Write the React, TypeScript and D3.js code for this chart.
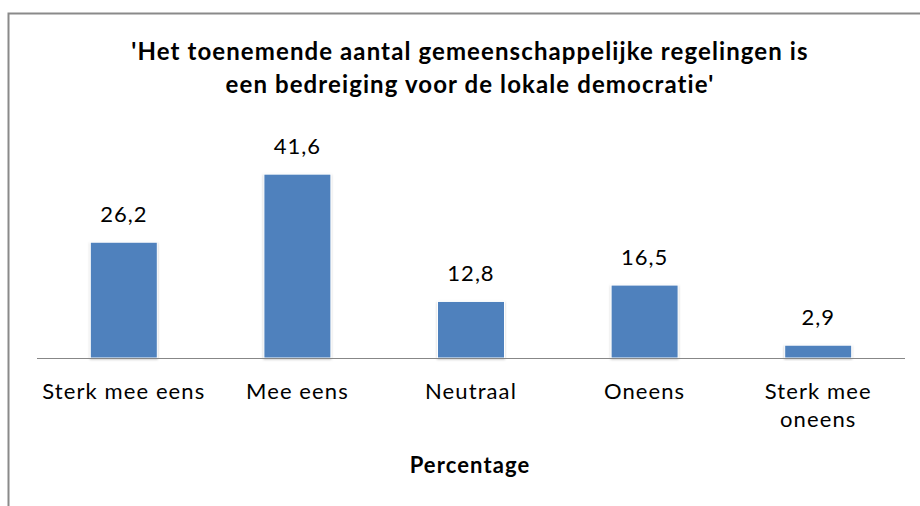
import { useEffect, useRef } from "react";
import * as d3 from "d3";

const categories = ["Sterk mee eens", "Mee eens", "Neutraal", "Oneens", "Sterk mee oneens"];
const values = [26.2, 41.6, 12.8, 16.5, 2.9];
const titleLines = [
  "'Het toenemende aantal gemeenschappelijke regelingen is",
  "een bedreiging voor de lokale democratie'",
];
const axisTitle = "Percentage";

const App = () => {
  const ref = useRef<SVGSVGElement>(null);

  useEffect(() => {
    const width = 920;
    const height = 506;
    const font = "Lato, 'Open Sans', sans-serif";

    const svg = d3.select(ref.current).attr("width", width).attr("height", height);
    svg.selectAll("*").remove();

    // schaduw voor de staven
    const defs = svg.append("defs");
    defs
      .append("filter")
      .attr("id", "barShadow")
      .attr("x", "-20%")
      .attr("y", "-20%")
      .attr("width", "140%")
      .attr("height", "140%")
      .append("feDropShadow")
      .attr("dx", 0)
      .attr("dy", 1)
      .attr("stdDeviation", 1.2)
      .attr("flood-color", "#000")
      .attr("flood-opacity", 0.25);

    // kader
    svg
      .append("rect")
      .attr("x", 8.5)
      .attr("y", 13.5)
      .attr("width", 940)
      .attr("height", 520)
      .attr("fill", "white")
      .attr("stroke", "#8a8a8a")
      .attr("stroke-width", 2);

    // titel
    svg
      .append("g")
      .selectAll("text")
      .data(titleLines)
      .join("text")
      .attr("x", 470)
      .attr("y", (d, i) => 60 + i * 33)
      .attr("text-anchor", "middle")
      .attr("font-family", font)
      .attr("font-size", 24)
      .attr("font-weight", "bold")
      .attr("letter-spacing", 1.1)
      .attr("fill", "#000")
      .text((d) => d);

    const x = d3
      .scaleBand()
      .domain(categories)
      .range([37, 905])
      .paddingInner(0.614)
      .paddingOuter(0.307);

    const y = d3.scaleLinear().domain([0, 45]).range([358, 358 - 45 * 4.42]);

    // staven
    svg
      .append("g")
      .selectAll("rect")
      .data(values)
      .join("rect")
      .attr("x", (d, i) => x(categories[i]))
      .attr("y", (d) => y(d))
      .attr("width", x.bandwidth())
      .attr("height", (d) => y(0) - y(d))
      .attr("fill", "#4f81bd")
      .attr("stroke", "#ffffff")
      .attr("stroke-width", 1)
      .attr("filter", "url(#barShadow)");

    // x-as lijn
    svg
      .append("line")
      .attr("x1", 37)
      .attr("x2", 905)
      .attr("y1", y(0) + 0.5)
      .attr("y2", y(0) + 0.5)
      .attr("stroke", "#878787")
      .attr("stroke-width", 1.2);

    // waardelabels
    svg
      .append("g")
      .selectAll("text")
      .data(values)
      .join("text")
      .attr("x", (d, i) => x(categories[i]) + x.bandwidth() / 2)
      .attr("y", (d) => y(d) - 20)
      .attr("text-anchor", "middle")
      .attr("font-family", font)
      .attr("font-size", 22)
      .attr("letter-spacing", 1)
      .attr("fill", "#000")
      .text((d) => d.toFixed(1).replace(".", ","));

    // categorielabels, met omloop
    const maxW = x.step() - 2;
    svg
      .append("g")
      .selectAll("text")
      .data(categories)
      .join("text")
      .attr("x", (d) => x(d) + x.bandwidth() / 2)
      .attr("y", 399)
      .attr("text-anchor", "middle")
      .attr("font-family", font)
      .attr("font-size", 22)
      .attr("letter-spacing", 1.1)
      .attr("fill", "#000")
      .each(function (d) {
        const text = d3.select(this);
        const cx = +text.attr("x");
        const words = d.split(" ");
        let line: string[] = [];
        let lineNo = 0;
        let tspan = text.append("tspan").attr("x", cx).attr("y", 399);
        words.forEach((w) => {
          line.push(w);
          tspan.text(line.join(" "));
          const node = tspan.node() as SVGTSpanElement;
          if (node.getComputedTextLength() > maxW && line.length > 1) {
            line.pop();
            tspan.text(line.join(" "));
            line = [w];
            lineNo++;
            tspan = text
              .append("tspan")
              .attr("x", cx)
              .attr("y", 399 + lineNo * 28)
              .text(w);
          }
        });
      });

    // as-titel
    svg
      .append("text")
      .attr("x", 470)
      .attr("y", 473)
      .attr("text-anchor", "middle")
      .attr("font-family", font)
      .attr("font-size", 22)
      .attr("font-weight", "bold")
      .attr("letter-spacing", 1.1)
      .attr("fill", "#000")
      .text(axisTitle);
  }, []);

  return <svg ref={ref} style={{ position: "absolute", left: 0, top: 0 }} />;
};

export default App;
